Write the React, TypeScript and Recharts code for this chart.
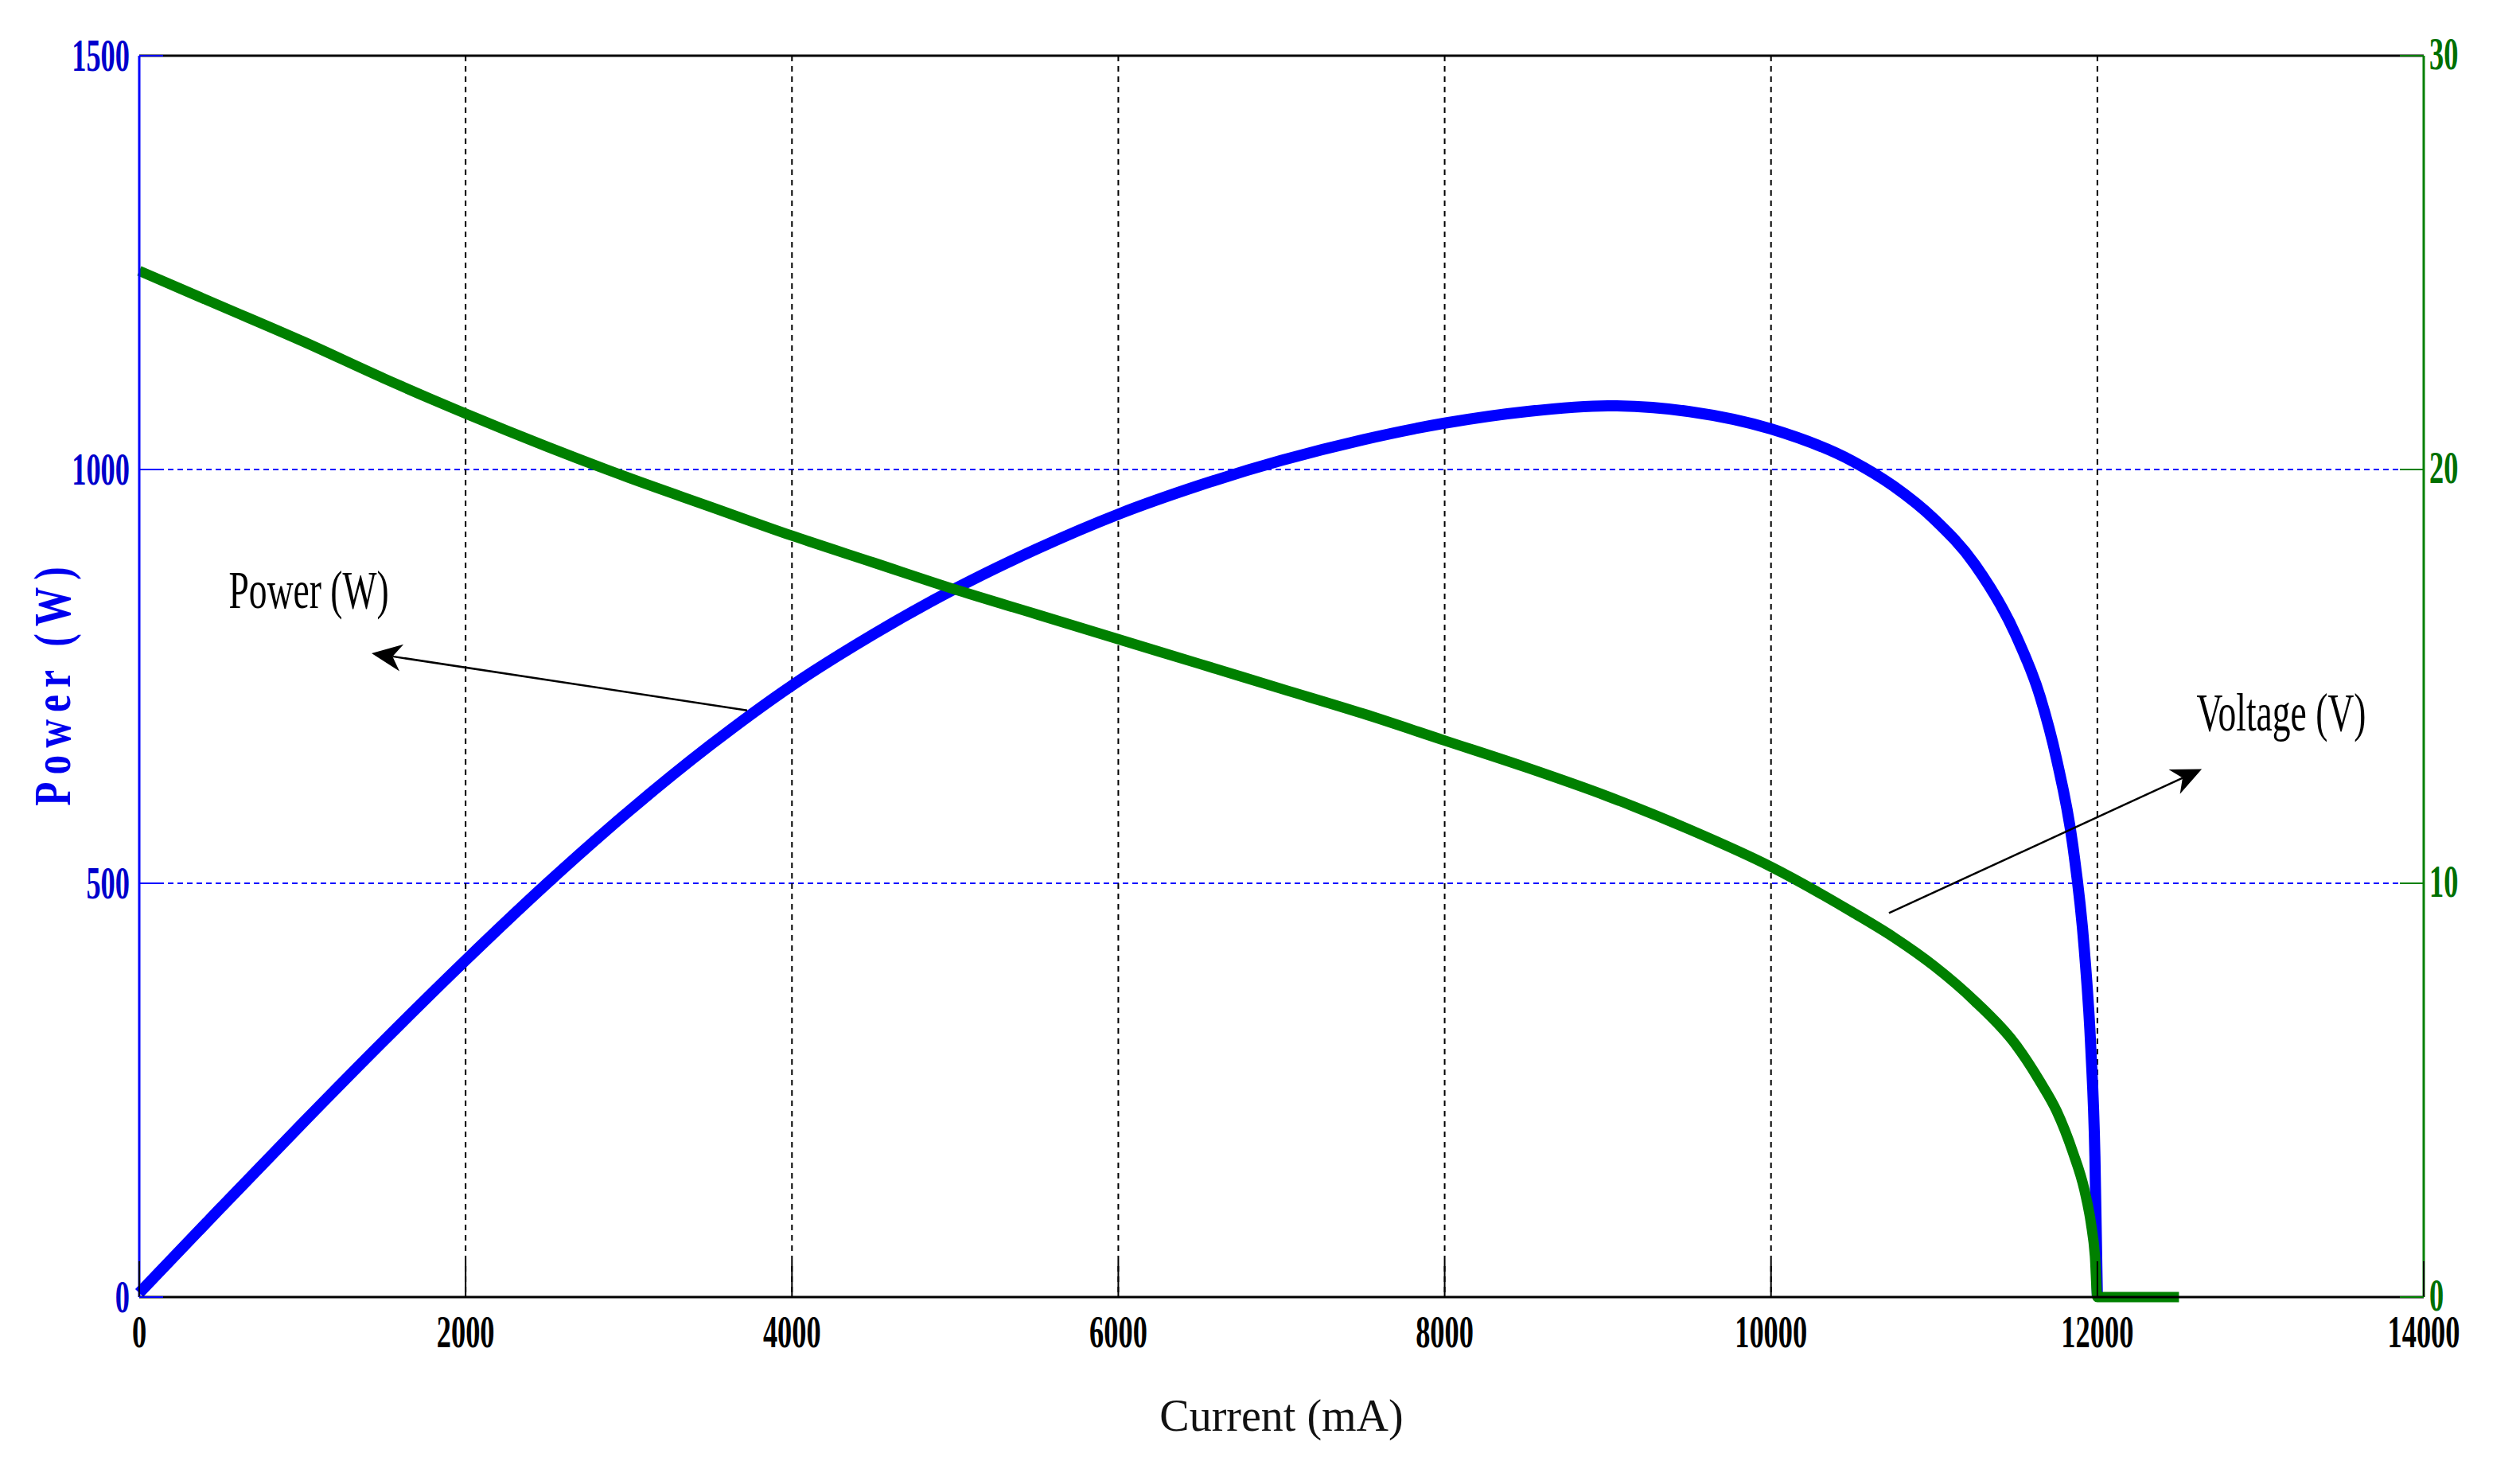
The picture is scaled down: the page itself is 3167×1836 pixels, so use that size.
import React from 'react';
import { LineChart, Line, XAxis, YAxis, CartesianGrid, ReferenceLine, ReferenceDot } from 'recharts';

const CURRENTS = [0, 500, 1000, 1500, 2000, 2500, 3000, 3500, 4000, 4500, 5000, 5500, 6000, 6500, 7000, 7500, 8000, 8500, 9000, 9500, 10000, 10500, 10750, 11000, 11250, 11500, 11650, 11750, 11850, 11920, 11960, 11985, 12000, 12500];
const POWER = [5, 108, 210, 310, 407, 500, 587, 667, 739, 801, 856, 904, 946, 981, 1011, 1036, 1056, 1070, 1077, 1070, 1049, 1010, 980, 940, 885, 800, 725, 650, 545, 420, 300, 170, 0, null];
const VOLTAGE = [24.8, 23.95, 23.1, 22.2, 21.35, 20.55, 19.8, 19.1, 18.4, 17.75, 17.1, 16.5, 15.9, 15.3, 14.7, 14.1, 13.45, 12.8, 12.1, 11.3, 10.4, 9.3, 8.7, 8.0, 7.15, 6.1, 5.2, 4.5, 3.5, 2.6, 1.8, 1.0, 0, 0];

const X_TICKS = [0, 2000, 4000, 6000, 8000, 10000, 12000, 14000];
const POWER_TICKS = [0, 500, 1000, 1500];
const VOLTAGE_TICKS = [0, 10, 20, 30];

const rows = CURRENTS.map((c, i) => ({ current: c, power: POWER[i], voltage: VOLTAGE[i] }));

const TICK_FONT = '"Liberation Serif", "DejaVu Serif", serif';

const BottomTick = (props: any) => {
  const { x, y, payload } = props;
  return (
    <g>
      <line x1={x} y1={y} x2={x} y2={y - 45} stroke="#000" strokeWidth={2} />
      <text transform={`translate(${x},${y + 63}) scale(0.65,1)`} textAnchor="middle" fontSize={56} fontWeight="bold" fontFamily={TICK_FONT} fill="#000">
        {payload.value}
      </text>
    </g>
  );
};

const LeftTick = (props: any) => {
  const { x, y, payload } = props;
  return (
    <g>
      <line x1={x} y1={y} x2={x + 30} y2={y} stroke="#0000ff" strokeWidth={2} />
      <text transform={`translate(${x - 12},${y + 19}) scale(0.65,1)`} textAnchor="end" fontSize={56} fontWeight="bold" fontFamily={TICK_FONT} fill="#0000cc">
        {payload.value}
      </text>
    </g>
  );
};

const RightTick = (props: any) => {
  const { x, y, payload } = props;
  return (
    <g>
      <line x1={x} y1={y} x2={x - 30} y2={y} stroke="#008000" strokeWidth={2} />
      <text transform={`translate(${x + 7},${y + 17}) scale(0.65,1)`} textAnchor="start" fontSize={56} fontWeight="bold" fontFamily={TICK_FONT} fill="#007000">
        {payload.value}
      </text>
    </g>
  );
};

// arrow drawn from (x1,y1) towards head at (x2,y2)
const Arrow = (props: any) => {
  const { x1, y1, x2, y2 } = props;
  const ang = Math.atan2(y2 - y1, x2 - x1);
  const len = 38;
  const half = 17;
  const bx = x2 - len * Math.cos(ang);
  const by = y2 - len * Math.sin(ang);
  const nx = x2 - len * 0.7 * Math.cos(ang);
  const ny = y2 - len * 0.7 * Math.sin(ang);
  const px = -Math.sin(ang) * half;
  const py = Math.cos(ang) * half;
  return (
    <g>
      <line x1={x1} y1={y1} x2={nx} y2={ny} stroke="#000" strokeWidth={2.5} />
      <polygon points={`${x2},${y2} ${bx + px},${by + py} ${nx},${ny} ${bx - px},${by - py}`} fill="#000" />
    </g>
  );
};

const note = (label: string) => (props: any) => (
  <text transform={`translate(${props.cx},${props.cy}) scale(0.67,1)`} textAnchor="middle" fontSize={68} fontFamily={TICK_FONT} fill="#000">
    {label}
  </text>
);

const PowerLabel = (props: any) => {
  const vb = props.viewBox;
  const cx = vb.x + 66;
  const cy = vb.y + vb.height / 2 + 8;
  return (
    <text transform={`translate(${cx},${cy}) rotate(-90) scale(0.75,1)`} textAnchor="middle" dominantBaseline="central" fontSize={66} fontWeight="bold" letterSpacing={12} fontFamily={TICK_FONT} fill="#0000ee">
      Power (W)
    </text>
  );
};

export default function App() {
  return (
    <div style={{ position: 'absolute', left: 0, top: 0, background: '#fff' }}>
      <LineChart width={3167} height={1836} data={rows} margin={{ top: 70, right: 0, bottom: 0, left: 0 }}>
        <CartesianGrid yAxisId="left" vertical={false} stroke="#0000ff" strokeWidth={2} strokeDasharray="7 5" />
        <CartesianGrid yAxisId="left" horizontal={false} stroke="#000" strokeWidth={2} strokeDasharray="7 6" />
        <XAxis
          dataKey="current"
          type="number"
          domain={[0, 14000]}
          ticks={X_TICKS}
          height={206}
          tickSize={0}
          tickMargin={0}
          tick={<BottomTick />}
          axisLine={{ stroke: '#000', strokeWidth: 3 }}
          label={{ value: 'Current (mA)', position: 'insideTop', offset: 128, fontSize: 56, fontFamily: TICK_FONT, fill: '#111' }}
        />
        <YAxis
          yAxisId="left"
          domain={[0, 1500]}
          ticks={POWER_TICKS}
          width={175}
          tickSize={0}
          tickMargin={0}
          tick={<LeftTick />}
          axisLine={{ stroke: '#0000ff', strokeWidth: 3 }}
          label={<PowerLabel />}
        />
        <YAxis
          yAxisId="right"
          orientation="right"
          domain={[0, 30]}
          ticks={VOLTAGE_TICKS}
          width={121}
          tickSize={0}
          tickMargin={0}
          tick={<RightTick />}
          axisLine={{ stroke: '#008000', strokeWidth: 3 }}
        />
        <ReferenceLine yAxisId="left" y={1500} stroke="#000" strokeWidth={3} />
        <Line yAxisId="left" type="monotone" dataKey="power" stroke="#0000ff" strokeWidth={14} dot={false} isAnimationActive={false} />
        <Line yAxisId="right" type="monotone" dataKey="voltage" stroke="#008000" strokeWidth={13} dot={false} isAnimationActive={false} />
        <ReferenceLine yAxisId="left" segment={[{ x: 3725, y: 709 }, { x: 1424, y: 778 }]} shape={<Arrow />} ifOverflow="visible" />
        <ReferenceLine yAxisId="left" segment={[{ x: 10723, y: 464 }, { x: 12640, y: 638 }]} shape={<Arrow />} ifOverflow="visible" />
        <ReferenceDot yAxisId="left" x={1039} y={833} r={1} shape={note('Power (W)')} ifOverflow="visible" />
        <ReferenceDot yAxisId="left" x={13127} y={685} r={1} shape={note('Voltage (V)')} ifOverflow="visible" />
      </LineChart>
    </div>
  );
}
